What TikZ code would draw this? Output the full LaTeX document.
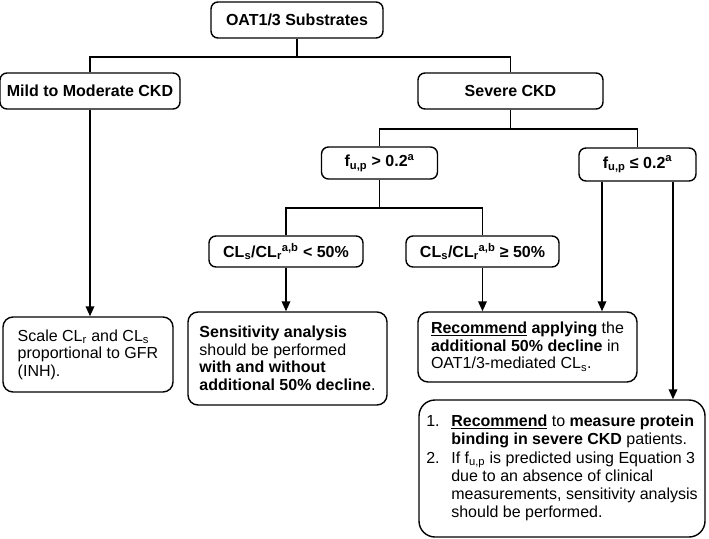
\documentclass[tikz,border=0pt]{standalone}
\usepackage{fontspec}
\setmainfont{Liberation Sans}
\usetikzlibrary{arrows.meta,calc}
\begin{document}
\begin{tikzpicture}[x=1pt,y=-1pt,
  box/.style={draw, line width=1.4pt, rounded corners=7pt, inner sep=0pt, font=\fontsize{16}{17.5}\selectfont\bfseries},
  res/.style={draw, line width=1.4pt, rounded corners=10pt, inner sep=0pt, align=left, font=\fontsize{16}{17.5}\selectfont},
  conn/.style={line width=1.8pt},
  arr/.style={line width=1.8pt, -{Triangle[length=10pt,width=8.5pt]}}]
\useasboundingbox (0,0) rectangle (709,538);
\node[box, minimum width=172pt, minimum height=36pt] (top) at (297,20) {OAT1/3 Substrates};
\node[box, minimum width=180pt, minimum height=36pt] (mild) at (90,91) {Mild to Moderate CKD};
\node[box, minimum width=185pt, minimum height=36pt] (severe) at (510.5,91) {Severe CKD};
\node[box, minimum width=116pt, minimum height=32pt] (fgt) at (379.5,163) {f\textsubscript{u,p} > 0.2\textsuperscript{a}};
\node[box, minimum width=117pt, minimum height=33pt] (fle) at (637.5,164.5) {f\textsubscript{u,p} ≤ 0.2\textsuperscript{a}};
\node[box, minimum width=154pt, minimum height=31pt] (clt) at (286,251.5) {CL\textsubscript{s}/CL\textsubscript{r}\textsuperscript{a,b} < 50\%};
\node[box, minimum width=153pt, minimum height=31pt] (cge) at (482.5,251.5) {CL\textsubscript{s}/CL\textsubscript{r}\textsuperscript{a,b} ≥ 50\%};
\node[res, minimum width=170pt, minimum height=75pt] (scale) at (88,354.5) {Scale CL\textsubscript{r} and CL\textsubscript{s}\\proportional to GFR\\(INH).};
\node[res, minimum width=199pt, minimum height=93pt] (sens) at (287.5,358.5) {\textbf{Sensitivity analysis}\\should be performed\\\textbf{with and without}\\\textbf{additional 50\% decline}.};
\node[res, minimum width=219pt, minimum height=70pt] (rec) at (527.5,347) {\textbf{\underline{Recommend} applying} the\\\textbf{additional 50\% decline} in\\OAT1/3-mediated CL\textsubscript{s}.};
\node[res, rounded corners=16pt, minimum width=286pt, minimum height=137pt, font=\fontsize{16}{18.3}\selectfont] (fin) at (562,468.5) {%
\begin{tabular}{@{}l@{}l@{}}
\makebox[25pt][l]{1.} & \textbf{\underline{Recommend}} to \textbf{measure protein}\\
 & \textbf{binding in severe CKD} patients.\\
\makebox[25pt][l]{2.} & If f\textsubscript{u,p} is predicted using Equation 3\\
 & due to an absence of clinical\\
 & measurements, sensitivity analysis\\
 & should be performed.
\end{tabular}};
\draw[conn] (top.south) -- ++(0,18) coordinate (j1);
\draw[conn] (mild.north) |- (j1) -| (severe.north);
\draw[conn] (severe.south) -- ++(0,19) coordinate (j2);
\draw[conn] (fgt.north) |- (j2) -| (fle.north);
\draw[conn] (fgt.south) -- ++(0,28) coordinate (j3);
\draw[conn] (clt.north) |- (j3) -| (cge.north);
\draw[arr] (mild.south) -- (mild.south |- scale.north);
\draw[arr] (clt.south) -- (clt.south |- sens.north);
\draw[arr] (cge.south) -- (cge.south |- rec.north);
\coordinate (fa) at ($(fle.south)+(-35.5,0)$);
\coordinate (fb) at ($(fle.south)+(35.5,0)$);
\draw[arr] (fa) -- (fa |- rec.north);
\draw[arr] (fb) -- (fb |- fin.north);
\end{tikzpicture}
\end{document}
